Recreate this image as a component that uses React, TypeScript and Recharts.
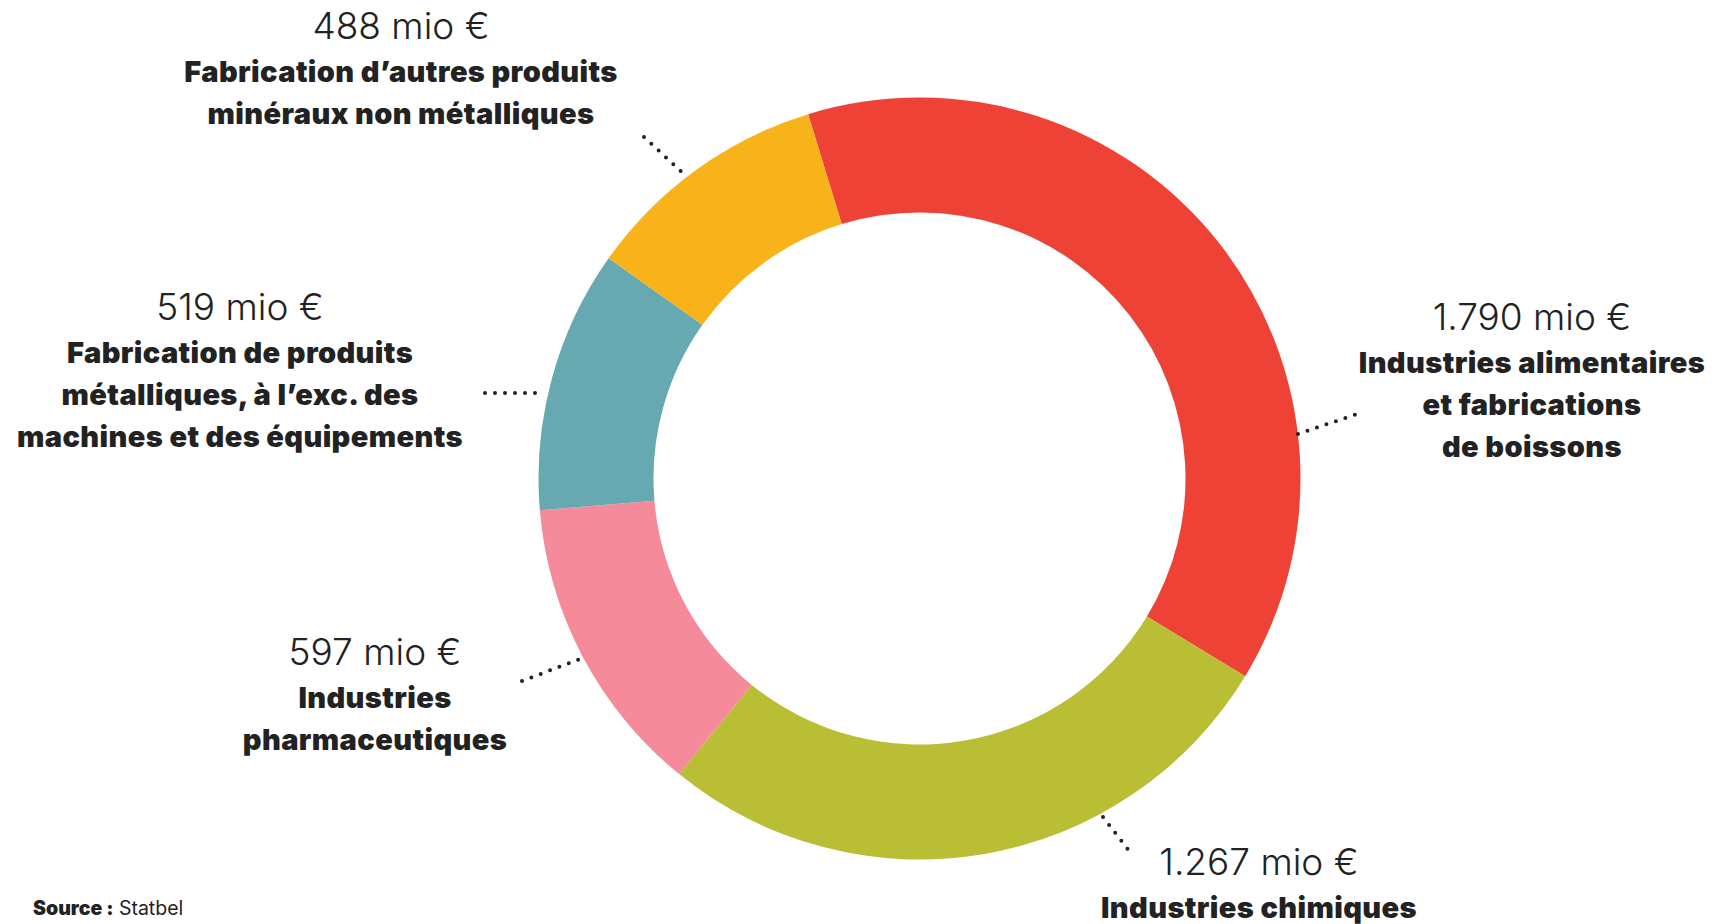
import React from "react";
import { PieChart, Pie, Cell } from "recharts";

// ─── Data ────────────────────────────────────────────────────────────────────

const categories = [
  "Industries alimentaires et fabrications de boissons",
  "Industries chimiques",
  "Industries pharmaceutiques",
  "Fabrication de produits métalliques, à l’exc. des machines et des équipements",
  "Fabrication d’autres produits minéraux non métalliques",
];

const values = [1790, 1267, 597, 519, 488];

const labelLines = [
  ["Industries alimentaires", "et fabrications", "de boissons"],
  ["Industries chimiques"],
  ["Industries", "pharmaceutiques"],
  ["Fabrication de produits", "métalliques, à l’exc. des", "machines et des équipements"],
  ["Fabrication d’autres produits", "minéraux non métalliques"],
];

const colors = ["#EE4237", "#BABE34", "#F48A9A", "#67A9B0", "#F9B31A"];

// ─── Layout des étiquettes (x centre, y ligne de base du montant, pointillés) ─

const labelLayout = [
  { x: 1532, y: 330, dots: [1298, 434, 1357, 414] },
  { x: 1259, y: 875, dots: [1103, 817, 1130, 852] },
  { x: 375, y: 665, dots: [522, 681, 580, 659] },
  { x: 240, y: 320, dots: [485, 393, 545, 393] },
  { x: 401, y: 39, dots: [644, 137, 686, 176] },
];

const FONT = "Inter, 'Noto Sans', sans-serif";
const INK = "#222222";

const fmt = (v: number) => `${String(v).replace(/\B(?=(\d{3})+(?!\d))/g, ".")} mio €`;

const data = categories.map((name, i) => ({ name, value: values[i] }));

function renderLabel(props: any) {
  const i = props.index as number;
  const lay = labelLayout[i];
  const [x1, y1, x2, y2] = lay.dots;
  return (
    <g key={`lbl-${i}`}>
      <line
        x1={x1}
        y1={y1}
        x2={x2}
        y2={y2}
        stroke={INK}
        strokeWidth={4}
        strokeLinecap="round"
        strokeDasharray="0 10"
      />
      <text
        x={lay.x}
        y={lay.y}
        textAnchor="middle"
        fontFamily={FONT}
        fontSize={37}
        fontWeight={300}
        fill={INK}
      >
        {fmt(values[i])}
      </text>
      {labelLines[i].map((line, j) => (
        <text
          key={j}
          x={lay.x}
          y={lay.y + 43 + j * 42}
          textAnchor="middle"
          fontFamily={FONT}
          fontSize={29}
          fontWeight={900}
          letterSpacing={0.4}
          fill={INK}
        >
          {line}
        </text>
      ))}
    </g>
  );
}

export default function App() {
  return (
    <div style={{ position: "absolute", left: 0, top: 0, width: 1723, height: 924, background: "#fff" }}>
      <PieChart width={1723} height={924} margin={{ top: 0, right: 0, bottom: 0, left: 0 }}>
        <Pie
          data={data}
          dataKey="value"
          nameKey="name"
          cx={919.5}
          cy={478.5}
          innerRadius={266}
          outerRadius={381}
          startAngle={107}
          endAngle={-253}
          stroke="none"
          label={renderLabel}
          labelLine={false}
          isAnimationActive={false}
        >
          {data.map((_, i) => (
            <Cell key={i} fill={colors[i]} />
          ))}
        </Pie>
        <text x={33} y={915} fontFamily={FONT} fontSize={19.5} fill={INK}>
          <tspan fontWeight={900}>Source :</tspan>
          <tspan fontWeight={400}> Statbel</tspan>
        </text>
      </PieChart>
    </div>
  );
}
